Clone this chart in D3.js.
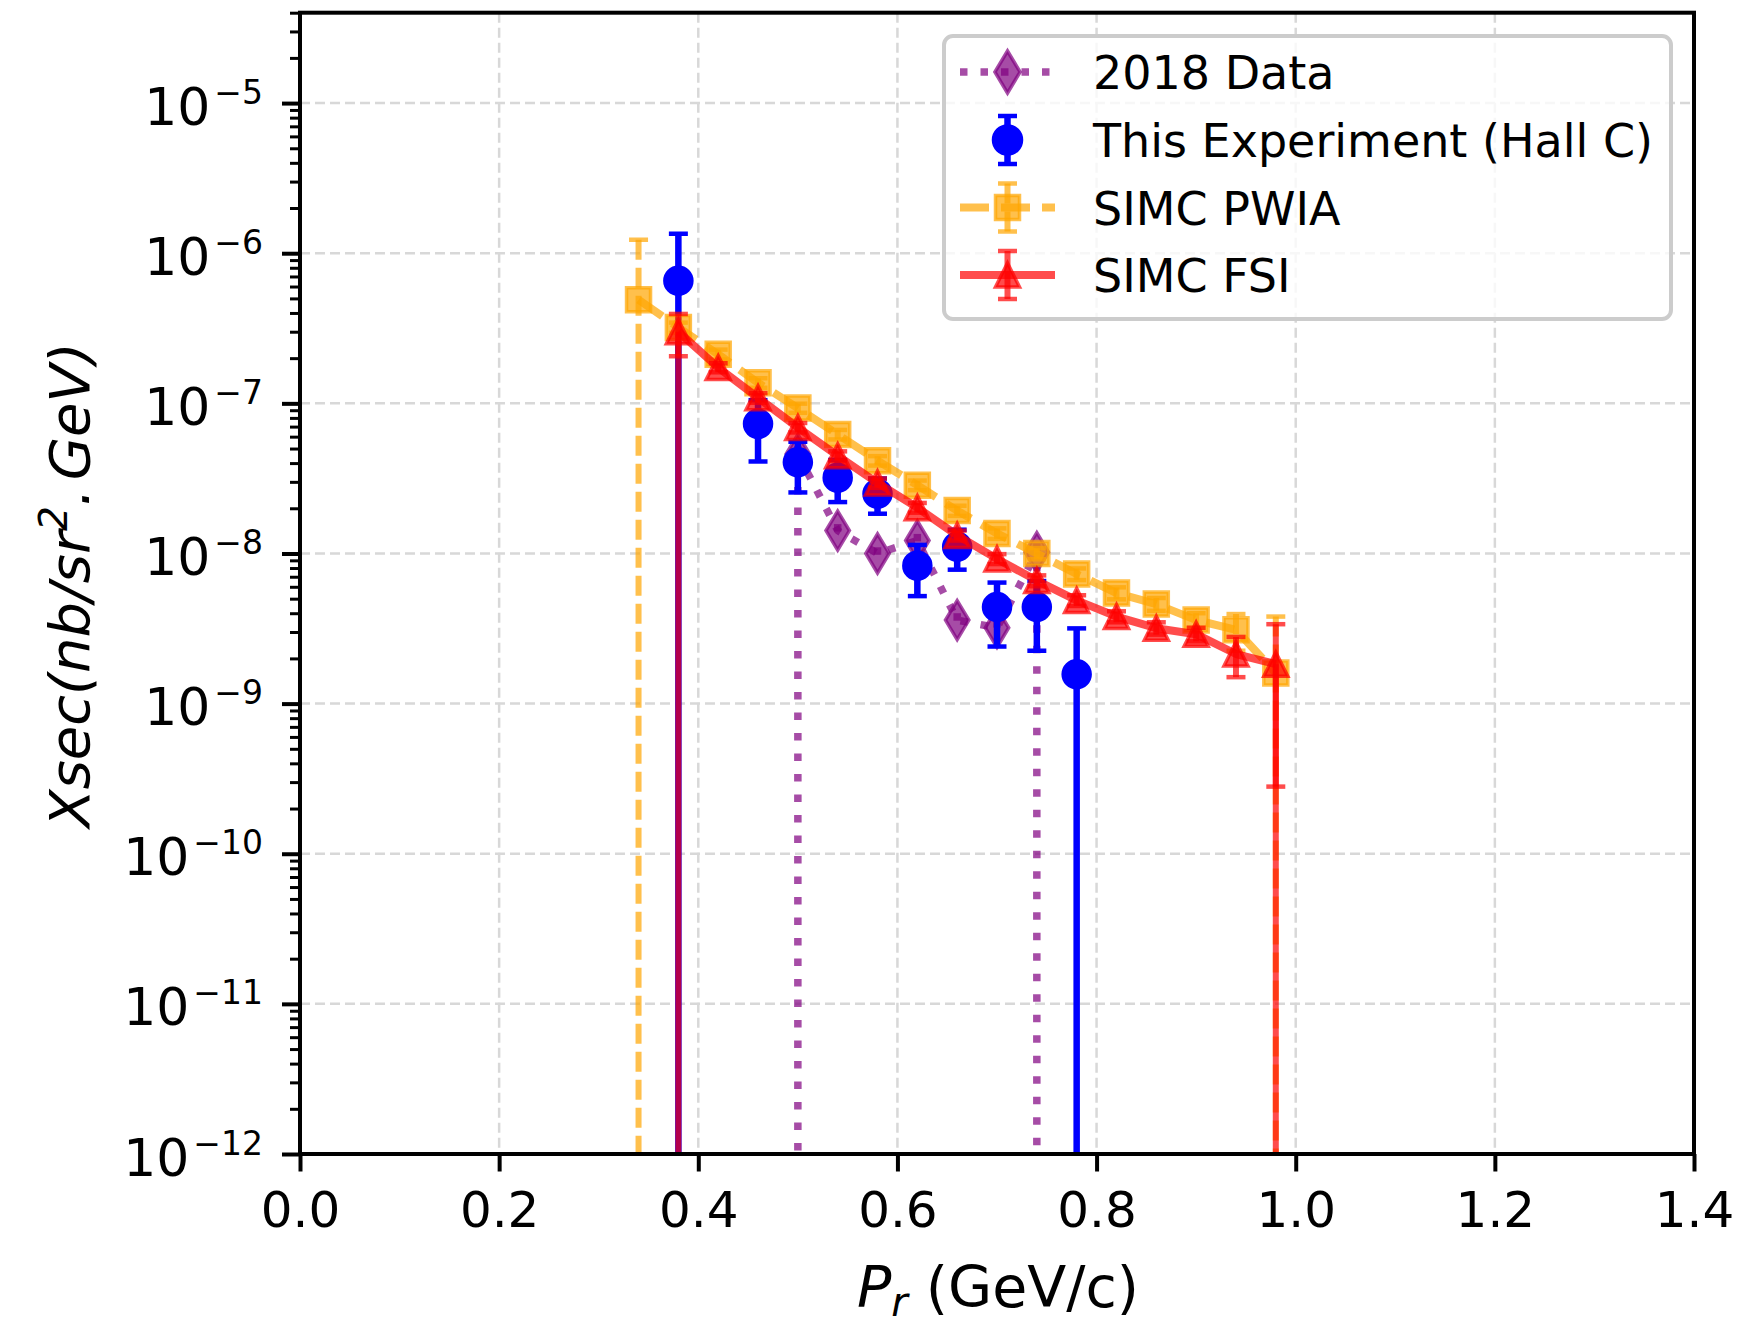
<!DOCTYPE html>
<html lang="en">
<head>
<meta charset="utf-8"/>
<title>Xsec vs Pr</title>
<script src="https://cdnjs.cloudflare.com/ajax/libs/d3/7.8.5/d3.min.js"></script>
<style>
	body { margin: 0; background: #fff; }
	svg text { font-family: "DejaVu Sans", sans-serif; fill: #000; }
</style>
</head>
<body>
<div id="chart"></div>
<script>
// ---- values ----
var xTicks = [0.0, 0.2, 0.4, 0.6, 0.8, 1.0, 1.2, 1.4];
var yDecades = [-12, -11, -10, -9, -8, -7, -6, -5];

// 2018 Data (purple diamonds, dotted)
var x2018 = [0.50, 0.54, 0.58, 0.62, 0.66, 0.70, 0.74];
var y2018 = [4.6e-8, 1.42e-8, 1.0e-8, 1.22e-8, 3.6e-9, 3.2e-9, 1.02e-8];
var err2018Lo = [6.0e-8, 1.5e-9, 1.0e-9, 1.3e-9, 4e-10, 4e-10, 1.2e-8];
var err2018Hi = [6.0e-9, 1.5e-9, 1.0e-9, 1.3e-9, 4e-10, 4e-10, 1.5e-9];

// This Experiment (Hall C) (blue circles)
var xExp = [0.38, 0.46, 0.50, 0.54, 0.58, 0.62, 0.66, 0.70, 0.74, 0.78];
var yExp = [6.55e-7, 7.3e-8, 4.05e-8, 3.2e-8, 2.5e-8, 8.3e-9, 1.11e-8, 4.4e-9, 4.4e-9, 1.57e-9];
var errExp = [6.95e-7, 3.2e-8, 1.5e-8, 1.0e-8, 6.6e-9, 3.1e-9, 3.3e-9, 2.0e-9, 2.15e-9, 1.6e-9];

// SIMC PWIA (orange squares, dashed)
var xPwia = [0.34, 0.38, 0.42, 0.46, 0.50, 0.54, 0.58, 0.62, 0.66, 0.70, 0.74, 0.78, 0.82, 0.86, 0.90, 0.94, 0.98];
var yPwia = [4.9e-7, 3.2e-7, 2.12e-7, 1.37e-7, 9.3e-8, 6.2e-8, 4.15e-8, 2.85e-8, 1.93e-8, 1.36e-8, 1.0e-8, 7.3e-9, 5.45e-9, 4.6e-9, 3.6e-9, 3.1e-9, 1.6e-9];
var errPwia = [7.4e-7, 2.5e-8, 1.6e-8, 1.0e-8, 6.5e-9, 4.5e-9, 3.0e-9, 2.1e-9, 1.5e-9, 1.1e-9, 8.5e-10, 6.5e-10, 5.0e-10, 4.5e-10, 4.0e-10, 8.5e-10, 2.2e-9];

// SIMC FSI (red triangles, solid)
var xFsi = [0.38, 0.42, 0.46, 0.50, 0.54, 0.58, 0.62, 0.66, 0.70, 0.74, 0.78, 0.82, 0.86, 0.90, 0.94, 0.98];
var yFsi = [3.0e-7, 1.73e-7, 1.09e-7, 6.9e-8, 4.47e-8, 2.95e-8, 2.02e-8, 1.32e-8, 9.2e-9, 6.6e-9, 4.87e-9, 3.8e-9, 3.18e-9, 2.9e-9, 2.14e-9, 1.83e-9];
var errFsi = [9.4e-8, 1.2e-8, 8e-9, 5e-9, 3.2e-9, 2.1e-9, 1.5e-9, 1.0e-9, 7e-10, 5.5e-10, 4e-10, 3.2e-10, 3e-10, 3e-10, 6.4e-10, 1.55e-9];
var errFsiTotalLo = [4.0e-7, null, null, null, null, null, null, null, null, null, null, null, null, null, null, 2.5e-9];

var legendLabels = ["2018 Data", "This Experiment (Hall C)", "SIMC PWIA", "SIMC FSI"];

// ---- layout ----
var W = 1740, H = 1326;
var L = 300, R = 1694, T = 12.7, B = 1154;

var x = d3.scaleLinear().domain([0, 1.4]).range([L, R]);
var y = d3.scaleLog().domain([1e-12, 4e-5]).range([B, T]);

var svg = d3.select("#chart").append("svg").attr("width", W).attr("height", H);
svg.append("rect").attr("width", W).attr("height", H).attr("fill", "#fff");

// grid
var grid = svg.append("g").attr("stroke", "#d8d8d8").attr("stroke-width", 2.5).attr("stroke-dasharray", "10,5");
grid.selectAll(".gx").data(xTicks).enter().append("line")
	.attr("x1", function(d) { return x(d); }).attr("x2", function(d) { return x(d); })
	.attr("y1", T).attr("y2", B);
grid.selectAll(".gy").data(yDecades).enter().append("line")
	.attr("y1", function(d) { return y(Math.pow(10, d)); }).attr("y2", function(d) { return y(Math.pow(10, d)); })
	.attr("x1", L).attr("x2", R);

svg.append("clipPath").attr("id", "plotclip").append("rect")
	.attr("x", L).attr("y", T).attr("width", R - L).attr("height", B - T);
var plot = svg.append("g").attr("clip-path", "url(#plotclip)");

// marker paths
function markerPath(kind, s) {
	var p = d3.path();
	if (kind === "square") { p.rect(-s, -s, 2 * s, 2 * s); }
	else if (kind === "triangle") { p.moveTo(0, -s); p.lineTo(s, s); p.lineTo(-s, s); p.closePath(); }
	else if (kind === "diamond") { p.moveTo(0, -s); p.lineTo(0.6 * s, 0); p.lineTo(0, s); p.lineTo(-0.6 * s, 0); p.closePath(); }
	else { p.arc(0, 0, s, 0, 2 * Math.PI); p.closePath(); }
	return p.toString();
}

function errBars(g, xs, vs, lo, hi, st) {
	xs.forEach(function(xv, i) {
		if (lo[i] == null) return;
		var top = vs[i] + hi[i], bot = vs[i] - lo[i];
		var yTop = y(top), yBot = bot > 0 ? y(bot) : B + 20;
		g.append("line").attr("x1", x(xv)).attr("x2", x(xv)).attr("y1", yTop).attr("y2", yBot)
			.attr("stroke", st.color).attr("stroke-opacity", st.alpha).attr("stroke-width", st.width)
			.attr("stroke-dasharray", st.dash || null);
		if (st.cap) {
			[top, bot].forEach(function(b) {
				if (b <= 0) return;
				g.append("line").attr("x1", x(xv) - 9.5).attr("x2", x(xv) + 9.5).attr("y1", y(b)).attr("y2", y(b))
					.attr("stroke", st.color).attr("stroke-opacity", st.alpha).attr("stroke-width", 4.5);
			});
		}
	});
}

function series(xs, vs, st) {
	var g = plot.append("g");
	if (st.line) {
		g.append("path").datum(xs.map(function(d, i) { return [d, vs[i]]; }))
			.attr("d", d3.line().x(function(d) { return x(d[0]); }).y(function(d) { return y(d[1]); }))
			.attr("fill", "none").attr("stroke", st.color).attr("stroke-opacity", st.alpha)
			.attr("stroke-width", st.lineWidth).attr("stroke-dasharray", st.lineDash || null)
			.attr("stroke-linejoin", "round");
	}
	g.selectAll("path.m").data(xs).enter().append("path").attr("class", "m")
		.attr("transform", function(d, i) { return "translate(" + x(d) + "," + y(vs[i]) + ")"; })
		.attr("d", markerPath(st.marker, st.size))
		.attr("fill", st.color).attr("fill-opacity", st.alpha)
		.attr("stroke", st.color).attr("stroke-opacity", st.alpha).attr("stroke-width", 3.5)
		.attr("stroke-linejoin", "miter");
	return g;
}

var purple = "#800080", blue = "#0000ff", orange = "#ffa500", red = "#ff0000";

// 2018 data
errBars(plot.append("g"), x2018, y2018, err2018Lo, err2018Hi, { color: purple, alpha: 0.7, width: 7.5, dash: "7.5,13", cap: false });
series(x2018, y2018, { color: purple, alpha: 0.7, line: true, lineWidth: 7.5, lineDash: "7.5,13", marker: "diamond", size: 19.5 });

// this experiment
errBars(plot.append("g"), xExp, yExp, errExp, errExp, { color: blue, alpha: 1, width: 6.5, cap: true });
series(xExp, yExp, { color: blue, alpha: 1, line: false, marker: "circle", size: 13.5 });

// PWIA
errBars(plot.append("g"), xPwia, yPwia, errPwia, errPwia, { color: orange, alpha: 0.7, width: 6, dash: "20,8", cap: true });
series(xPwia, yPwia, { color: orange, alpha: 0.7, line: true, lineWidth: 8, lineDash: "29,12", marker: "square", size: 12 });

// FSI
errBars(plot.append("g"), xFsi, yFsi, errFsiTotalLo, errFsiTotalLo.map(function() { return 0; }), { color: red, alpha: 0.7, width: 6, cap: false });
errBars(plot.append("g"), xFsi, yFsi, errFsi, errFsi, { color: red, alpha: 0.7, width: 6, cap: true });
series(xFsi, yFsi, { color: red, alpha: 0.7, line: true, lineWidth: 8, marker: "triangle", size: 12 });

// axes
var xAxis = svg.append("g").attr("transform", "translate(0," + B + ")")
	.call(d3.axisBottom(x).tickValues(xTicks).tickSize(17.5).tickPadding(20).tickFormat(d3.format(".1f")));
xAxis.select(".domain").remove();
xAxis.selectAll(".tick line").attr("stroke", "#000").attr("stroke-width", 4);
xAxis.selectAll(".tick text").attr("font-size", 50).attr("font-family", "DejaVu Sans");

var minor = [];
yDecades.concat([-13]).forEach(function(k) {
	for (var m = 2; m <= 9; m++) {
		var v = m * Math.pow(10, k);
		if (v > 1e-12 && v <= 4e-5) minor.push(v);
	}
});
var yMinor = svg.append("g").attr("transform", "translate(" + L + ",0)")
	.call(d3.axisLeft(y).tickValues(minor).tickSize(10).tickFormat(""));
yMinor.select(".domain").remove();
yMinor.selectAll(".tick line").attr("stroke", "#000").attr("stroke-width", 3);

var yAxis = svg.append("g").attr("transform", "translate(" + L + ",0)")
	.call(d3.axisLeft(y).tickValues(yDecades.map(function(d) { return Math.pow(10, d); })).tickSize(18).tickFormat(""));
yAxis.select(".domain").remove();
yAxis.selectAll(".tick line").attr("stroke", "#000").attr("stroke-width", 4);

var yLab = svg.append("g");
yDecades.forEach(function(k) {
	var t = yLab.append("text").attr("x", 263).attr("y", y(Math.pow(10, k)) + 21.5)
		.attr("text-anchor", "end").attr("font-size", 52);
	t.append("tspan").text("10");
	t.append("tspan").attr("dy", -21).attr("dx", 4).attr("font-size", 33).text("\u2212" + (-k));
});

// frame
svg.append("rect").attr("x", L).attr("y", T).attr("width", R - L).attr("height", B - T)
	.attr("fill", "none").attr("stroke", "#000").attr("stroke-width", 4);

// axis labels
var xl = svg.append("text").attr("x", 998).attr("y", 1307).attr("text-anchor", "middle").attr("font-size", 57);
xl.append("tspan").attr("font-style", "italic").text("P");
xl.append("tspan").attr("font-style", "italic").attr("font-size", 40).attr("dy", 9).text("r");
xl.append("tspan").attr("dy", -9).text(" (GeV/c)");

var yl = svg.append("text").attr("transform", "translate(89,585) rotate(-90)")
	.attr("text-anchor", "middle").attr("font-size", 56).attr("font-style", "italic");
yl.append("tspan").text("Xsec(nb/sr");
yl.append("tspan").attr("font-size", 39).attr("dy", -22).text("2");
yl.append("tspan").attr("dy", 22).text(".");
yl.append("tspan").attr("dx", 8).text("GeV)");

// legend
var leg = svg.append("g");
leg.append("rect").attr("x", 944).attr("y", 36).attr("width", 727).attr("height", 283).attr("rx", 9)
	.attr("fill", "#fff").attr("fill-opacity", 0.8).attr("stroke", "#cccccc").attr("stroke-width", 4);
var rows = [72, 140, 207.5, 275];
var hx0 = 960, hx1 = 1055, hc = 1007.5;
var legStyles = [
	{ color: purple, alpha: 0.7, line: true, lw: 7.5, dash: "7.5,13", marker: "diamond", size: 21, err: false },
	{ color: blue, alpha: 1, line: false, marker: "circle", size: 14, err: true, ew: 6.5 },
	{ color: orange, alpha: 0.7, line: true, lw: 8, dash: "29,12", marker: "square", size: 12, err: true, ew: 6, edash: "20,8" },
	{ color: red, alpha: 0.7, line: true, lw: 8, marker: "triangle", size: 12, err: true, ew: 6 }
];
legStyles.forEach(function(st, i) {
	var cy = rows[i];
	var g = leg.append("g");
	if (st.err) {
		g.append("line").attr("x1", hc).attr("x2", hc).attr("y1", cy - 24).attr("y2", cy + 24)
			.attr("stroke", st.color).attr("stroke-opacity", st.alpha).attr("stroke-width", st.ew)
			.attr("stroke-dasharray", st.edash || null);
		[cy - 24, cy + 24].forEach(function(c) {
			g.append("line").attr("x1", hc - 9.5).attr("x2", hc + 9.5).attr("y1", c).attr("y2", c)
				.attr("stroke", st.color).attr("stroke-opacity", st.alpha).attr("stroke-width", 4.5);
		});
	}
	if (st.line) {
		g.append("line").attr("x1", hx0).attr("x2", hx1).attr("y1", cy).attr("y2", cy)
			.attr("stroke", st.color).attr("stroke-opacity", st.alpha).attr("stroke-width", st.lw)
			.attr("stroke-dasharray", st.dash || null);
	}
	g.append("path").attr("transform", "translate(" + hc + "," + cy + ")").attr("d", markerPath(st.marker, st.size))
		.attr("fill", st.color).attr("fill-opacity", st.alpha)
		.attr("stroke", st.color).attr("stroke-opacity", st.alpha).attr("stroke-width", 3.5);
	leg.append("text").attr("x", 1093).attr("y", cy + 17).attr("font-size", 46).text(legendLabels[i]);
});
</script>
</body>
</html>
